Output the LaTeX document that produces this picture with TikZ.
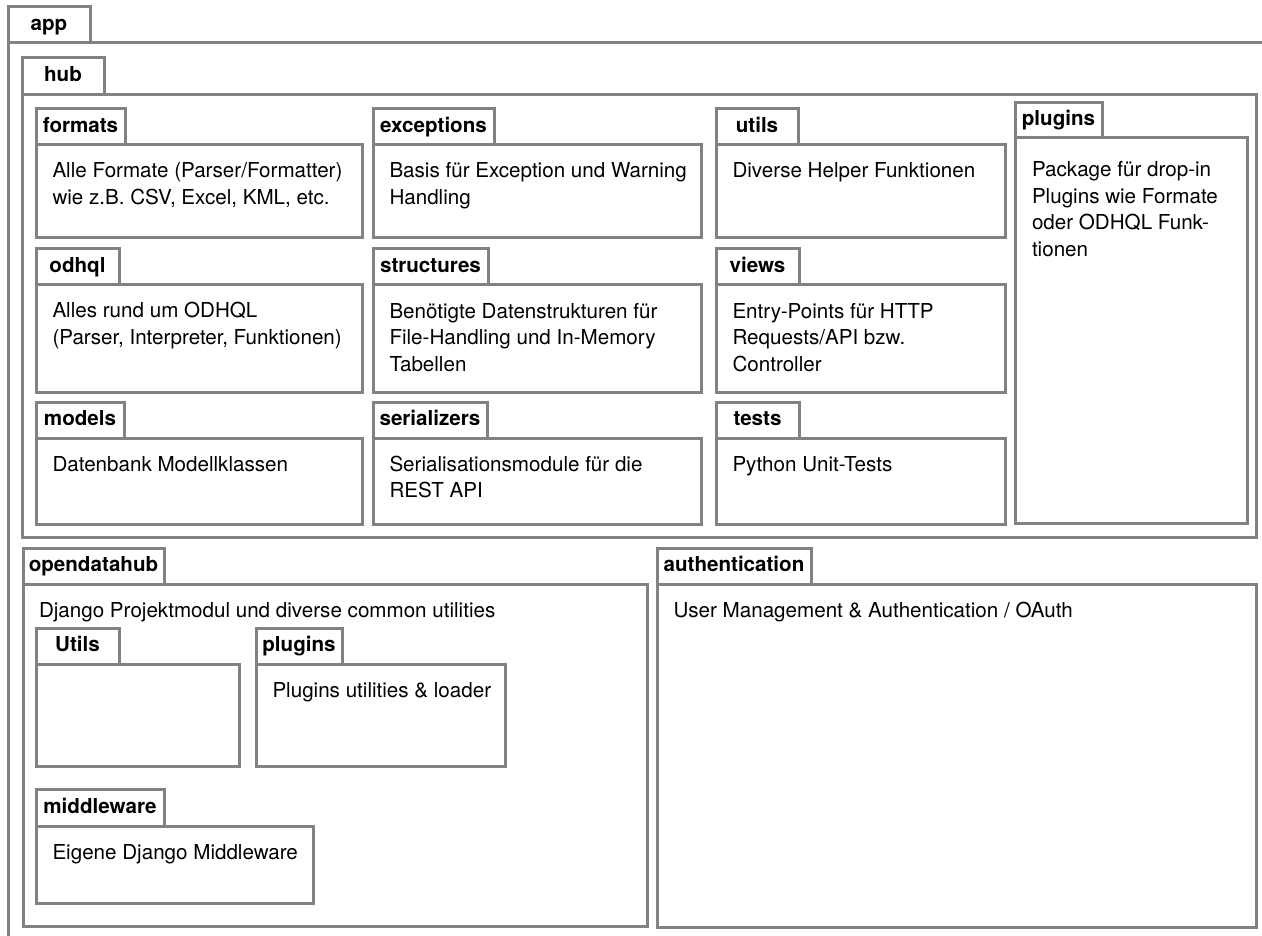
\documentclass[tikz,border=0pt]{standalone}
\usepackage{fontspec}
\setmainfont{TeX Gyre Heros}
\definecolor{linegray}{RGB}{130,130,130}

% Package frame: tab on top, body below.
% #1 name, #2 left, #3 tab right, #4 tab top, #5 tab bottom, #6 body right, #7 body bottom, #8 label
\newcommand\pkgframe[8]{%
  \node[pkgbody, minimum width=#6pt-#2pt, minimum height=#7pt-#5pt] (#1) at (#2,#5) {};
  \node[pkgtab, minimum width=#3pt-#2pt, minimum height=#5pt-#4pt] (#1-tab) at (#2,#4) {#8};
}
% Description text: #1 name, #2 x, #3 baseline y, #4 text
\newcommand\pkgtext[4]{%
  \node[pkgdesc] (#1) at (#2,#3-18.55) {\strut #4};
}

\begin{document}
\begin{tikzpicture}[x=1pt,y=-1pt,
  pkgline/.style={draw=linegray, line width=3pt},
  pkgtab/.style={pkgline, fill=white, anchor=north west, inner sep=0pt, outer sep=0pt,
    font=\bfseries\fontsize{20.6}{24}\selectfont, text height=15pt, text depth=4pt},
  pkgbody/.style={pkgline, fill=white, anchor=north west, inner sep=0pt, outer sep=0pt},
  pkgdesc/.style={anchor=north west, inner sep=0pt, outer sep=0pt, align=left,
    font=\fontsize{20.6}{26.5}\selectfont}]
\clip (0,0) rectangle (1262,936);
\fill[white] (0,0) rectangle (1262,936);

% outer application package (runs past the page edge)
\pkgframe{app}{8}{90}{7}{43}{1300}{990}{app}

% hub package
\pkgframe{hub}{22}{104}{58}{95}{1256}{537}{hub}

% first row
\pkgframe{formats}{36}{125}{109}{145}{362}{238}{formats}
\pkgtext{formats-text}{52.5}{178}{Alle Formate (Parser/Formatter)\\wie z.B. CSV, Excel, KML, etc.}
\pkgframe{exceptions}{373}{494}{109}{145}{701}{238}{exceptions}
\pkgtext{exceptions-text}{389.5}{178}{Basis für Exception und Warning\\Handling}
\pkgframe{utils}{716}{798}{109}{145}{1005}{238}{utils}
\pkgtext{utils-text}{732.5}{178}{Diverse Helper Funktionen}

% hub plugins column
\pkgframe{hubplugins}{1015}{1102}{103}{138}{1247}{523}{plugins}
\pkgtext{hubplugins-text}{1032}{177}{Package für drop-in\\Plugins wie Formate\\oder ODHQL Funk-\\tionen}

% second row
\pkgframe{odhql}{36}{119}{249}{285}{362}{392}{odhql}
\pkgtext{odhql-text}{52.5}{318}{Alles rund um ODHQL\\(Parser, Interpreter, Funktionen)}
\pkgframe{structures}{373}{488}{249}{285}{701}{392}{structures}
\pkgtext{structures-text}{389.5}{318}{Benötigte Datenstrukturen für\\File-Handling und In-Memory\\Tabellen}
\pkgframe{views}{716}{799}{249}{285}{1005}{392}{views}
\pkgtext{views-text}{732.5}{318}{Entry-Points für HTTP\\Requests/API bzw.\\Controller}

% third row
\pkgframe{models}{36}{124}{402}{438}{362}{524}{models}
\pkgtext{models-text}{52.5}{471}{Datenbank Modellklassen}
\pkgframe{serializers}{373}{487}{402}{438}{701}{524}{serializers}
\pkgtext{serializers-text}{389.5}{471}{Serialisationsmodule für die\\REST API}
\pkgframe{tests}{716}{799}{402}{438}{1005}{524}{tests}
\pkgtext{tests-text}{732.5}{471}{Python Unit-Tests}

% opendatahub package
\pkgframe{opendatahub}{23}{164}{548}{584}{647}{926}{opendatahub}
\pkgtext{opendatahub-text}{39}{617}{Django Projektmodul und diverse common utilities}
\pkgframe{odhutils}{36}{119}{628}{664}{239}{766}{Utils}
\pkgframe{odhplugins}{256}{342}{628}{664}{505}{766}{plugins}
\pkgtext{odhplugins-text}{272.5}{697}{Plugins utilities \& loader}
\pkgframe{middleware}{36}{164}{789}{826}{313}{903}{middleware}
\pkgtext{middleware-text}{52.5}{859}{Eigene Django Middleware}

% authentication package
\pkgframe{authentication}{657}{811}{548}{584}{1256}{927}{authentication}
\pkgtext{authentication-text}{673.5}{617}{User Management \& Authentication / OAuth}
\end{tikzpicture}
\end{document}
